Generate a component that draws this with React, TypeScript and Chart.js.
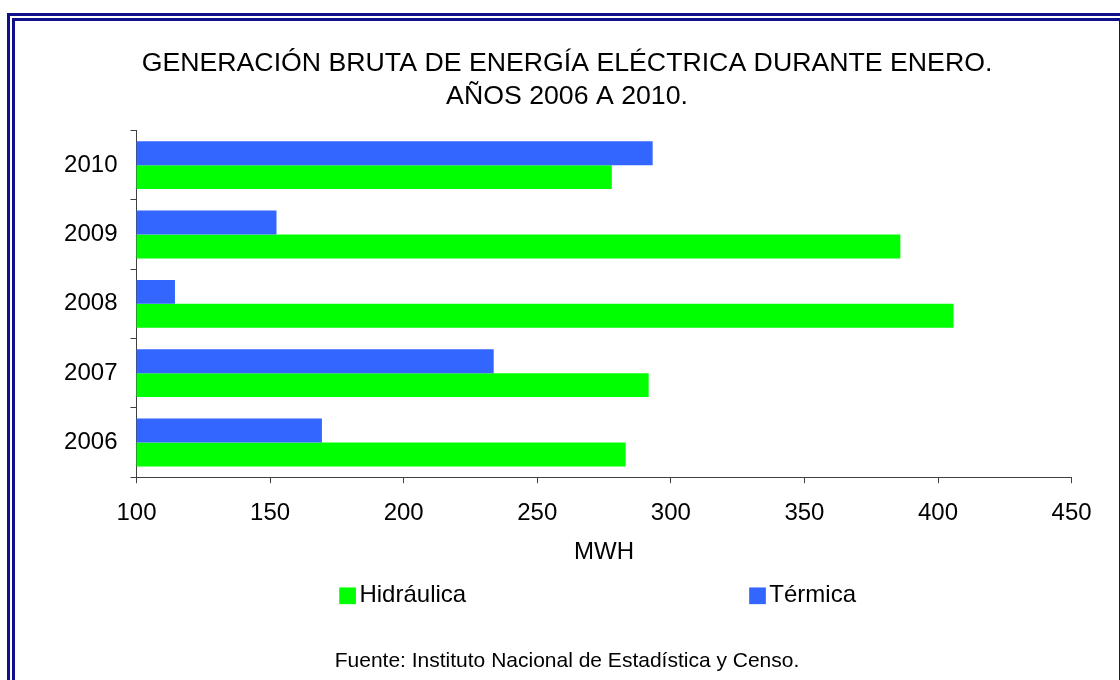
import { useEffect, useRef } from "react";
import { Chart, registerables } from "chart.js";

Chart.register(...registerables);

const FONT = "'Liberation Sans', Arial, Helvetica, sans-serif";

const years = ["2010", "2009", "2008", "2007", "2006"];
const termica = [293.2, 152.4, 114.4, 233.7, 169.4];
const hidraulica = [277.9, 385.9, 405.8, 291.7, 283.1];
const seriesTermica = "Térmica";
const seriesHidraulica = "Hidráulica";
const legendOrder = [seriesHidraulica, seriesTermica];
const xMin = 100;
const xMax = 450;
const xStep = 50;
const titleLines = [
  "GENERACIÓN BRUTA DE ENERGÍA ELÉCTRICA DURANTE ENERO.",
  "AÑOS 2006 A 2010.",
];
const axisTitle = "MWH";
const sourceText = "Fuente: Instituto Nacional de Estadística y Censo.";

const BLUE = "#3366FF";
const GREEN = "#00FF00";
const AXIS = "#404040";

const legendPlugin = {
  id: "spreadLegend",
  afterDraw(chart: any) {
    const ctx = chart.ctx;
    const xs = chart.scales.x;
    const y = xs.bottom + 25;
    const positions = [0.2937, 0.665];
    const box = 16.7;
    ctx.save();
    ctx.font = `24px ${FONT}`;
    ctx.textBaseline = "middle";
    ctx.textAlign = "left";
    legendOrder.forEach((name, i) => {
      const ds = chart.data.datasets.find((d: any) => d.label === name);
      const x = chart.width * positions[i];
      ctx.fillStyle = ds.backgroundColor;
      ctx.fillRect(x, y - box / 2, box, box);
      ctx.fillStyle = "#000";
      ctx.fillText(name, x + box + 3.5, y);
    });
    ctx.restore();
  },
};

export default function App() {
  const ref = useRef<HTMLCanvasElement | null>(null);

  useEffect(() => {
    if (!ref.current) return;
    const chart = new Chart(ref.current, {
      type: "bar",
      data: {
        labels: years,
        datasets: [
          {
            label: seriesTermica,
            data: termica,
            backgroundColor: BLUE,
            borderWidth: 0,
            categoryPercentage: 0.69,
            barPercentage: 1,
          },
          {
            label: seriesHidraulica,
            data: hidraulica,
            backgroundColor: GREEN,
            borderWidth: 0,
            categoryPercentage: 0.69,
            barPercentage: 1,
          },
        ],
      },
      options: {
        indexAxis: "y",
        responsive: false,
        animation: false,
        devicePixelRatio: 1,
        layout: { padding: { left: 47.4, right: 47.4, top: 0, bottom: 0 } },
        plugins: {
          legend: { display: false },
          tooltip: { enabled: false },
          title: {
            display: true,
            text: titleLines,
            color: "#000",
            font: { family: FONT, size: 26.7, weight: "normal", lineHeight: 1.245 },
            padding: { top: 26, bottom: 17 },
          },
          subtitle: {
            display: true,
            position: "bottom",
            text: sourceText,
            color: "#000",
            font: { family: FONT, size: 21, weight: "normal", lineHeight: 1.2 },
            padding: { top: 78, bottom: 7 },
          },
        },
        scales: {
          x: {
            type: "linear",
            min: xMin,
            max: xMax,
            ticks: {
              stepSize: xStep,
              color: "#000",
              padding: 16,
              font: { family: FONT, size: 24 },
            },
            grid: {
              drawOnChartArea: false,
              drawTicks: true,
              tickLength: 6,
              color: AXIS,
              tickColor: AXIS,
            },
            border: { display: true, color: AXIS, width: 1 },
            title: {
              display: true,
              text: axisTitle,
              color: "#000",
              font: { family: FONT, size: 24 },
              padding: { top: -6, bottom: 4 },
            },
          },
          y: {
            type: "category",
            afterFit(scale: any) {
              scale.width = 74.1;
            },
            ticks: {
              color: "#000",
              padding: 13,
              font: { family: FONT, size: 24 },
            },
            grid: {
              drawOnChartArea: false,
              drawTicks: true,
              tickLength: 6,
              offset: true,
              color: AXIS,
              tickColor: AXIS,
            },
            border: { display: true, color: AXIS, width: 1 },
          },
        },
      },
      plugins: [legendPlugin],
    } as any);
    return () => chart.destroy();
  }, []);

  return (
    <div
      style={{
        position: "fixed",
        left: 7,
        top: 13,
        width: 1120,
        height: 700,
        border: "8px double #10108c",
        boxSizing: "border-box",
        background: "#fff",
      }}
    >
      <canvas ref={ref} width={1104} height={660} style={{ display: "block" }} />
    </div>
  );
}
